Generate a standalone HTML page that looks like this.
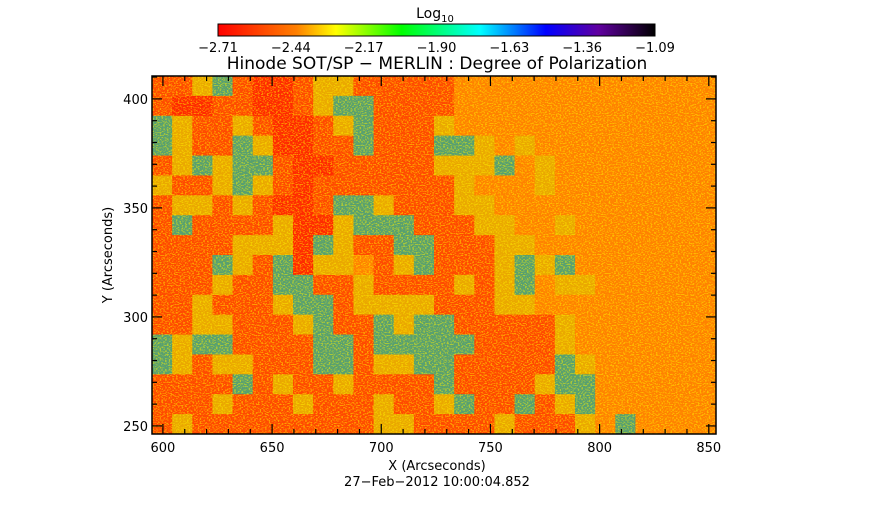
<!DOCTYPE html>
<html><head><meta charset="utf-8"><style>
body{margin:0;background:#fff;width:873px;height:512px;overflow:hidden}
svg{display:block;font-family:"DejaVu Sans","Liberation Sans",sans-serif}
</style></head><body>
<svg id="chart" width="873" height="512" viewBox="0 0 873 512">
<defs>
<linearGradient id="cbar" x1="0" x2="1" y1="0" y2="0">
<stop offset="0" stop-color="#ff0000"/><stop offset="0.18" stop-color="#ff8000"/><stop offset="0.27" stop-color="#ffff00"/><stop offset="0.42" stop-color="#00ff00"/><stop offset="0.6" stop-color="#00ffff"/><stop offset="0.75" stop-color="#0000ff"/><stop offset="0.87" stop-color="#6000a0"/><stop offset="1" stop-color="#000000"/>
</linearGradient>
<filter id="speck" x="0" y="0" width="100%" height="100%">
<feTurbulence type="fractalNoise" baseFrequency="0.55 0.9" numOctaves="1" seed="3"/>
<feColorMatrix type="matrix" values="0 0 0 0 1  0 0 0 0 0.9  0 0 0 0 0  0 0 0 9 -4.6"/>
</filter>
<clipPath id="plotclip"><rect x="152" y="76" width="564" height="358"/></clipPath>
</defs>
<text x="435" y="18" text-anchor="middle" font-size="14">Log<tspan font-size="10" dy="4">10</tspan></text>
<rect x="218" y="24" width="437" height="12" fill="url(#cbar)" stroke="#000" stroke-width="1"/>
<g id="cbticks" font-size="13" text-anchor="middle"></g>
<text x="437" y="69" text-anchor="middle" font-size="17">Hinode SOT/SP − MERLIN : Degree of Polarization</text>
<g id="cells" clip-path="url(#plotclip)"></g>
<rect x="152" y="76" width="564" height="358" filter="url(#speck)" opacity="0.5"/>
<rect x="152" y="76" width="564" height="358" fill="none" stroke="#000" stroke-width="1.5"/>
<g id="axes" font-size="13"></g>
<text x="437" y="470" text-anchor="middle" font-size="13">X (Arcseconds)</text>
<text x="112" y="255" text-anchor="middle" font-size="13" transform="rotate(-90 112 255)">Y (Arcseconds)</text>
<text x="437" y="486" text-anchor="middle" font-size="13">27−Feb−2012 10:00:04.852</text>
</svg>
<script>
const cbLabels=["-2.71","-2.44","-2.17","-1.90","-1.63","-1.36","-1.09"];
const xTicks=[600,650,700,750,800,850];
const yTicks=[250,300,350,400];
const xRange=[595,853.3];
const yRange=[246.3,410.5];
const levelColors=["#ff2a00","#ff4a00","#ff8200","#eaa800","#58a070"];
const gridRows=[
"1134100133111112222222222222",
"1001100134411112222222222222",
"4311310013411132222222222222",
"4311430011411144323222222222",
"1343441001111133342322222222",
"3113431011111113222322222222",
"1331310014431113322222222222",
"1411113003444111332232222222",
"1111333043114411133222222222",
"1114314033213411134342222222",
"1113114411311113134233222222",
"1131113441333311133222222222",
"1133111341143441111132222222",
"4344111144144444111132222222",
"4313311144133441111143222222",
"1111413113111141111344222222",
"1113111311131134114134222222",
"1311111111133111131113242222"
];
const NS="http://www.w3.org/2000/svg";
const L=152,R=716,T=76,B=434;
function xs(v){return L+(v-xRange[0])/(xRange[1]-xRange[0])*(R-L);}
function ys(v){return B-(v-yRange[0])/(yRange[1]-yRange[0])*(B-T);}
function mk(tag,attrs,parent){const e=document.createElementNS(NS,tag);for(const k in attrs)e.setAttribute(k,attrs[k]);parent.appendChild(e);return e;}
const cbg=document.getElementById('cbticks');
cbLabels.forEach((s,i)=>{const x=218+i*(437/(cbLabels.length-1));
const t=mk('text',{x:x,y:52},cbg);t.textContent=s.replace('-','−');

});
const cg=document.getElementById('cells');
const nr=gridRows.length,nc=gridRows[0].length;
const cw=(R-L)/nc,ch=(B-T)/nr;
gridRows.forEach((row,r)=>{for(let c=0;c<nc;c++){const v=+row[c];
const e=mk('rect',{x:L+c*cw,y:T+r*ch,width:cw+0.6,height:ch+0.6,fill:levelColors[v]},cg);

}});
const ag=document.getElementById('axes');
for(let v=600;v<=850;v+=10){const x=xs(v);const maj=v%50===0;const len=maj?10:5;
const a=mk('line',{x1:x,x2:x,y1:B,y2:B-len,stroke:'#000','stroke-width':1.2},ag);

const b=mk('line',{x1:x,x2:x,y1:T,y2:T+len,stroke:'#000','stroke-width':1.2},ag);
}
for(let v=250;v<=410;v+=10){const y=ys(v);const maj=v%50===0;const len=maj?10:5;
const a=mk('line',{x1:L,x2:L+len,y1:y,y2:y,stroke:'#000','stroke-width':1.2},ag);

const b=mk('line',{x1:R,x2:R-len,y1:y,y2:y,stroke:'#000','stroke-width':1.2},ag);
}
xTicks.forEach(v=>{const t=mk('text',{x:xs(v),y:452,'text-anchor':'middle'},ag);t.textContent=v;
});
yTicks.forEach(v=>{const t=mk('text',{x:148,y:ys(v)+5,'text-anchor':'end'},ag);t.textContent=v;
});
</script>
</body></html>
